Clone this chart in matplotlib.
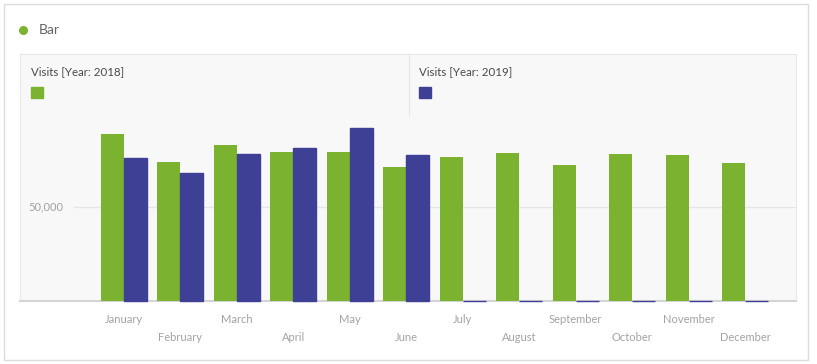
import numpy as np
import matplotlib
matplotlib.use("Agg")
import matplotlib.pyplot as plt
from matplotlib.patches import Rectangle

plt.rcParams['font.family'] = ['Lato', 'DejaVu Sans']

months = ['January', 'February', 'March', 'April', 'May', 'June',
          'July', 'August', 'September', 'October', 'November', 'December']
visits_2018 = [88800, 74000, 82900, 79300, 78800, 71200,
               76600, 78600, 72400, 77900, 77400, 73100]
visits_2019 = [75800, 68100, 78200, 81400, 91800, 77700,
               0, 0, 0, 0, 0, 0]
series_names = ['Visits [Year: 2018]', 'Visits [Year: 2019]']
ytick_vals = [50000]

green = '#7BB22F'
blue = '#3E4095'
W, H = 817, 364

fig = plt.figure(figsize=(W / 100, H / 100), dpi=100)

# outer card border
fig.patches.append(Rectangle((4 / W, 1 - 360 / H), 804 / W, 356 / H, transform=fig.transFigure,
                             fill=False, edgecolor='#DCDCDC', lw=1))

# title with dot
fig.add_artist(plt.Line2D([23 / W], [1 - 29.5 / H], marker='o', markersize=5.5,
                          color=green, lw=0))
fig.text(39 / W, 1 - 29.5 / H, 'Bar', color='#666666', fontsize=10, ha='left', va='center')

# plotting panel
ax = fig.add_axes([20 / W, 1 - 300.5 / H, 776 / W, 247 / H])
ax.set_facecolor('#F8F8F8')
x = np.arange(len(months))
bw = 0.407
ax.bar(x - bw, visits_2018, width=bw, align='edge', color=green, lw=0, zorder=3)
ax.bar(x, visits_2019, width=bw, align='edge', color=blue, edgecolor=blue, lw=1,
       zorder=3, clip_on=False)

ax.set_xlim(-1.835, 11.9)
ax.set_ylim(0, 131500)

for v in ytick_vals:
    ax.hlines(v, -0.9, 11.9, color='#E6E6E6', lw=1, zorder=0)
    ax.text(-1.07, v, f'{v:,}', color='#A0A0A0', fontsize=8, ha='right', va='center')

ax.set_yticks([])
ax.set_xticks(x)
ax.set_xticklabels(months, color='#A3A3A3', fontsize=8)
ax.tick_params(axis='x', length=0)
for i, t in enumerate(ax.xaxis.get_major_ticks()):
    t.set_pad(10 if i % 2 == 0 else 22.5)

for s in ['top', 'left', 'right']:
    ax.spines[s].set_color('#E8E8E8')
    ax.spines[s].set_linewidth(0.8)
ax.spines['bottom'].set_color('#D4D4D4')
ax.spines['bottom'].set_linewidth(1.5)

# legend header inside panel
for name, col, lx in zip(series_names, [green, blue], [31, 419]):
    fig.text(lx / W, 1 - 72 / H, name, color='#4A4A4A', fontsize=8.3, ha='left', va='center')
    fig.patches.append(Rectangle((lx / W, 1 - 98 / H), 12 / W, 11.5 / H,
                                 transform=fig.transFigure, color=col))
fig.add_artist(plt.Line2D([408.5 / W, 408.5 / W], [1 - 53.5 / H, 1 - 116 / H],
                          color='#E6E6E6', lw=0.8))

fig.savefig('out.png', dpi=100)
